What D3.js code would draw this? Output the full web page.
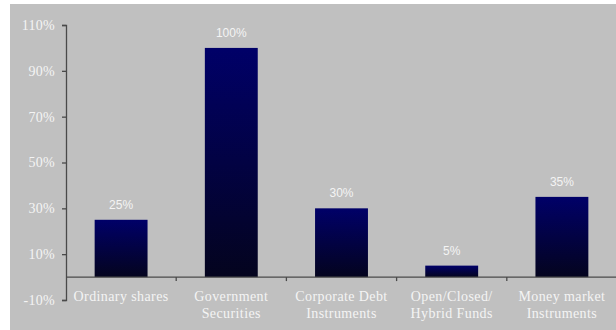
<!DOCTYPE html>
<html>
<head>
<meta charset="utf-8">
<script src="https://cdn.jsdelivr.net/npm/d3@7"></script>
<style>
  html, body { margin: 0; padding: 0; background: #ffffff; }
  svg { display: block; }
</style>
</head>
<body>
<svg id="chart" width="616" height="330"></svg>
<script>
// Share of investment ceiling by instrument type
const categories = [
  "Ordinary shares",
  "Government\nSecurities",
  "Corporate Debt\nInstruments",
  "Open/Closed/\nHybrid Funds",
  "Money market\nInstruments"
];
const values = [25, 100, 30, 5, 35];
const tickValues = [-10, 10, 30, 50, 70, 90, 110];

const svg = d3.select("#chart");
const W = 616, H = 330;

// grey chart area
svg.append("rect")
  .attr("x", 10).attr("y", 4)
  .attr("width", W - 10).attr("height", H - 4)
  .attr("fill", "#c0c0c0");

const plot = { left: 66, right: 617, top: 25, bottom: 300 };

const y = d3.scaleLinear().domain([-10, 110]).range([plot.bottom, plot.top]);
const x = d3.scaleBand()
  .domain(categories)
  .range([plot.left, plot.right])
  .paddingInner(0.52)
  .paddingOuter(0.26);

// bar gradient: navy on top fading to near-black at the base
const defs = svg.append("defs");
const grad = defs.append("linearGradient")
  .attr("id", "barFill")
  .attr("x1", 0).attr("y1", 0).attr("x2", 0).attr("y2", 1);
grad.append("stop").attr("offset", "0%").attr("stop-color", "#000068");
grad.append("stop").attr("offset", "100%").attr("stop-color", "#04041e");

// bars
svg.append("g").selectAll("rect")
  .data(values)
  .join("rect")
  .attr("x", (d, i) => x(categories[i]))
  .attr("width", x.bandwidth())
  .attr("y", d => y(d))
  .attr("height", d => y(0) - y(d))
  .attr("fill", "url(#barFill)");

// value labels
svg.append("g").selectAll("text")
  .data(values)
  .join("text")
  .attr("x", (d, i) => x(categories[i]) + x.bandwidth() / 2)
  .attr("y", d => y(d) - 11)
  .attr("text-anchor", "middle")
  .attr("font-family", "'Liberation Sans', Arial, sans-serif")
  .attr("font-size", 12)
  .attr("fill", "#f4f4f4")
  .text(d => d + "%");

const axisColor = "#4a4a4a";

// y axis
const yAxis = d3.axisLeft(y)
  .tickValues(tickValues)
  .tickSize(4)
  .tickPadding(7)
  .tickFormat(d => d + "%");
const gy = svg.append("g")
  .attr("transform", `translate(${plot.left},0)`)
  .call(yAxis);
gy.select(".domain").attr("stroke", axisColor).attr("stroke-width", 1.3);
gy.selectAll(".tick line").attr("stroke", axisColor).attr("stroke-width", 1.3);
gy.selectAll(".tick text")
  .attr("font-family", "'Liberation Serif', 'Times New Roman', serif")
  .attr("font-size", 14)
  .attr("letter-spacing", 0.3)
  .attr("fill", "#f4f4f4");

// category axis along the zero line
const gx = svg.append("g");
gx.append("line")
  .attr("x1", plot.left).attr("x2", W)
  .attr("y1", y(0)).attr("y2", y(0))
  .attr("stroke", axisColor).attr("stroke-width", 1.3);
const boundaries = d3.range(1, categories.length).map(i => plot.left + i * x.step());
gx.selectAll("line.sep")
  .data(boundaries)
  .join("line")
  .attr("class", "sep")
  .attr("x1", d => d).attr("x2", d => d)
  .attr("y1", y(0)).attr("y2", y(0) + 4)
  .attr("stroke", axisColor).attr("stroke-width", 1.3);

const labels = gx.selectAll("text.cat")
  .data(categories)
  .join("text")
  .attr("class", "cat")
  .attr("text-anchor", "middle")
  .attr("font-family", "'Liberation Serif', 'Times New Roman', serif")
  .attr("font-size", 14)
  .attr("letter-spacing", 0.4)
  .attr("fill", "#f4f4f4");
labels.each(function (d) {
  const cx = x(d) + x.bandwidth() / 2;
  d.split("\n").forEach((line, k) => {
    d3.select(this).append("tspan")
      .attr("x", cx)
      .attr("y", y(0) + 24 + k * 17)
      .text(line);
  });
});
</script>
</body>
</html>
